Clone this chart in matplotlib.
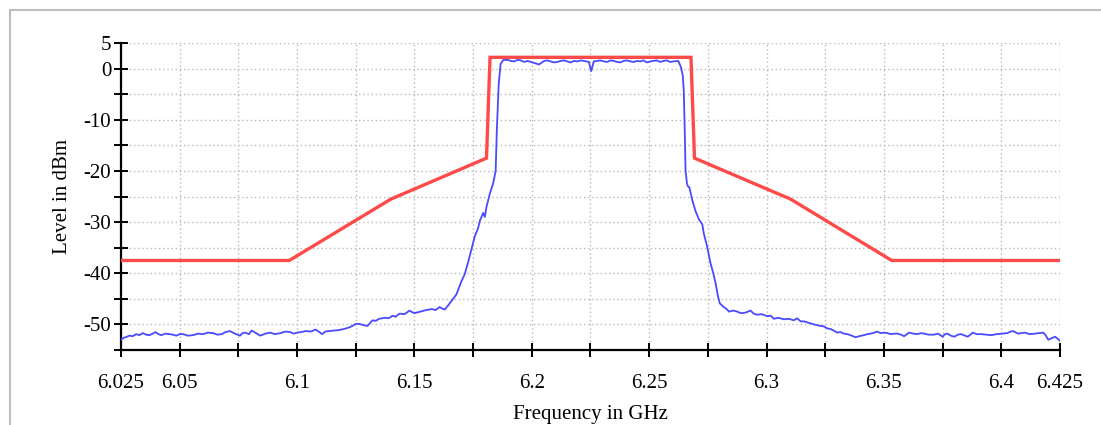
import matplotlib
matplotlib.use("Agg")
import matplotlib.pyplot as plt
from matplotlib.lines import Line2D

# ---------------- data ----------------
mask_freq = [6.025, 6.0967, 6.1400, 6.1807, 6.1822, 6.2678, 6.2693, 6.3102, 6.3533, 6.425]
mask_level = [-37.5, -37.5, -25.5, -17.5, 2.2, 2.2, -17.5, -25.5, -37.5, -37.5]

blue_freq = [
    6.0250, 6.0262, 6.0271, 6.0285, 6.0300, 6.0315, 6.0328, 6.0343, 6.0357, 6.0371,
    6.0385, 6.0397, 6.0410, 6.0421, 6.0440, 6.0457, 6.0470, 6.0486, 6.0500, 6.0514,
    6.0535, 6.0557, 6.0578, 6.0600, 6.0620, 6.0643, 6.0660, 6.0679, 6.0695, 6.0714,
    6.0735, 6.0757, 6.0768, 6.0779, 6.0795, 6.0807, 6.0825, 6.0843, 6.0865, 6.0886,
    6.0905, 6.0929, 6.0950, 6.0971, 6.0985, 6.1000, 6.1018, 6.1036, 6.1058, 6.1079,
    6.1092, 6.1107, 6.1120, 6.1136, 6.1158, 6.1179, 6.1200, 6.1221, 6.1236, 6.1250,
    6.1265, 6.1280, 6.1300, 6.1321, 6.1335, 6.1350, 6.1375, 6.1390, 6.1407, 6.1420,
    6.1436, 6.1458, 6.1479, 6.1490, 6.1500, 6.1525, 6.1550, 6.1575, 6.1590, 6.1607,
    6.1618, 6.1629, 6.1640, 6.1650, 6.1665, 6.1679, 6.1690, 6.1700, 6.1714, 6.1729,
    6.1743, 6.1757, 6.1771, 6.1779, 6.1793, 6.1800, 6.1807, 6.1821, 6.1835, 6.1846,
    6.1851, 6.1859, 6.1867, 6.1879,
    6.1897, 6.1911, 6.1925, 6.1939, 6.1953, 6.1968, 6.1982, 6.2003, 6.2017, 6.2031,
    6.2052, 6.2066, 6.2081, 6.2095, 6.2109, 6.2123, 6.2137, 6.2151, 6.2165, 6.2180,
    6.2194, 6.2208, 6.2222, 6.2243, 6.2253, 6.2264, 6.2278, 6.2292, 6.2307, 6.2321,
    6.2335, 6.2349, 6.2363, 6.2377, 6.2391, 6.2405, 6.2420, 6.2434, 6.2448, 6.2462,
    6.2476, 6.2490, 6.2504, 6.2518, 6.2532, 6.2547, 6.2561, 6.2575, 6.2589, 6.2603,
    6.2624, 6.2636, 6.2643,
    6.2647, 6.2651, 6.2655, 6.2661, 6.2665, 6.2671, 6.2683, 6.2697, 6.2712, 6.2726,
    6.2733, 6.2747, 6.2761, 6.2773, 6.2783, 6.2793, 6.2801, 6.2818, 6.2830, 6.2840,
    6.2858, 6.2875, 6.2890, 6.2910, 6.2932, 6.2945, 6.2960, 6.2980, 6.3003, 6.3018,
    6.3031, 6.3050, 6.3074, 6.3095, 6.3116, 6.3130, 6.3145, 6.3159, 6.3180, 6.3202,
    6.3220, 6.3244, 6.3260, 6.3273, 6.3290, 6.3300, 6.3315, 6.3329, 6.3345, 6.3357,
    6.3379, 6.3395, 6.3414, 6.3430, 6.3443, 6.3460, 6.3471, 6.3485, 6.3500, 6.3515,
    6.3529, 6.3545, 6.3557, 6.3572, 6.3586, 6.3607, 6.3625, 6.3643, 6.3658, 6.3671,
    6.3690, 6.3714, 6.3730, 6.3750, 6.3760, 6.3771, 6.3785, 6.3800, 6.3815, 6.3829,
    6.3845, 6.3857, 6.3879, 6.3895, 6.3914, 6.3935, 6.3957, 6.3980, 6.4007, 6.4025,
    6.4040, 6.4050, 6.4071, 6.4085, 6.4100, 6.4120, 6.4143, 6.4160, 6.4179, 6.4190,
    6.4200, 6.4215, 6.4229, 6.4240, 6.4250,
]
blue_level = [
    -53.0, -52.6, -52.5, -52.2, -52.3, -51.9, -52.1, -51.7, -52.0, -52.1,
    -51.8, -51.5, -51.9, -52.1, -51.8, -51.9, -52.0, -52.2, -51.9, -51.9,
    -52.2, -52.1, -51.8, -51.9, -51.6, -51.7, -52.0, -51.9, -51.5, -51.3,
    -51.8, -52.2, -51.7, -51.6, -51.9, -51.2, -51.7, -52.2, -51.8, -51.6,
    -51.9, -51.7, -51.4, -51.5, -51.8, -51.6, -51.5, -51.3, -51.4, -51.0,
    -51.4, -51.9, -51.4, -51.3, -51.2, -51.1, -50.9, -50.6, -50.3, -49.9,
    -49.9, -50.1, -50.3, -49.2, -49.3, -48.9, -48.7, -48.8, -48.3, -48.5,
    -47.9, -48.0, -47.3, -47.6, -47.8, -47.5, -47.2, -47.0, -47.2, -46.6,
    -46.9, -47.1, -46.5, -45.9, -45.0, -44.1, -42.8, -41.6, -40.2, -37.8,
    -35.3, -32.8, -31.2, -29.7, -28.2, -29.0, -27.0, -24.5, -22.5, -20.0,
    -12.0, -3.0, 0.9, 1.7,
    1.7, 1.5, 1.4, 1.7, 1.6, 1.3, 1.5, 1.2, 1.0, 0.8,
    1.5, 1.6, 1.4, 1.2, 1.3, 1.5, 1.6, 1.4, 1.2, 1.5,
    1.4, 1.6, 1.5, 1.3, -0.5, 1.4, 1.5, 1.6, 1.4, 1.3,
    1.6, 1.5, 1.3, 1.2, 1.5, 1.6, 1.4, 1.3, 1.5, 1.4,
    1.6, 1.2, 1.4, 1.5, 1.6, 1.3, 1.5, 1.6, 1.3, 1.4,
    1.5, 0.2, -1.4,
    -4.0, -11.0, -20.0, -22.5, -23.0, -23.2, -25.6, -27.8, -29.5, -30.4,
    -32.3, -34.8, -38.0, -40.0, -42.0, -44.5, -45.9, -46.6, -47.0, -47.5,
    -47.3, -47.5, -47.8, -47.7, -47.3, -47.9, -48.1, -48.0, -48.4, -48.3,
    -48.9, -48.7, -49.0, -48.9, -49.2, -48.8, -49.4, -49.4, -49.7, -50.0,
    -50.2, -50.4, -50.8, -50.9, -51.3, -51.6, -51.5, -51.8, -51.9, -52.1,
    -52.5, -52.3, -52.1, -51.9, -51.8, -51.6, -51.4, -51.7, -51.6, -51.7,
    -51.9, -51.8, -51.8, -52.0, -52.3, -51.6, -51.8, -51.9, -51.7, -51.8,
    -52.0, -52.0, -51.8, -52.4, -51.9, -51.8, -52.2, -52.4, -52.0, -51.9,
    -52.2, -52.4, -51.6, -51.9, -51.9, -52.0, -52.1, -51.9, -51.8, -51.7,
    -51.4, -51.3, -51.8, -51.7, -51.6, -51.9, -51.8, -51.7, -51.6, -52.2,
    -53.0, -52.7, -52.4, -52.8, -53.2,
]

x_ticks = [6.025 + 0.025 * i for i in range(17)]
x_tick_labels = ["6.025", "6.05", "", "6.1", "", "6.15", "", "6.2", "", "6.25",
                 "", "6.3", "", "6.35", "", "6.4", "6.425"]
y_ticks = [5, 0, -5, -10, -15, -20, -25, -30, -35, -40, -45, -50, -55]
y_tick_labels = ["5", "0", "", "-10", "", "-20", "", "-30", "", "-40", "", "-50", ""]

# ---------------- figure ----------------
plt.rcParams["font.family"] = ["Liberation Serif", "DejaVu Serif"]
plt.rcParams["axes.unicode_minus"] = False

W, H = 1101, 425
fig = plt.figure(figsize=(W / 100, H / 100), dpi=100)
ax = fig.add_axes([121 / W, 1 - 350 / H, 939 / W, 307 / H])

ax.plot(blue_freq, blue_level, color="#4a4aff", lw=1.3, zorder=3)
ax.plot(mask_freq, mask_level, color="#ff4a4a", lw=2.4, zorder=4,
        solid_joinstyle="miter")

ax.set_xlim(6.025, 6.425)
ax.set_ylim(-55, 5)
ax.set_xticks(x_ticks)
ax.set_xticklabels(x_tick_labels)
ax.set_yticks(y_ticks)
ax.set_yticklabels(y_tick_labels)

ax.grid(True, color="#b8b8b8", linestyle=(0, (1, 2)), linewidth=1.0, zorder=0)
for s in ["top", "right"]:
    ax.spines[s].set_visible(False)
for s in ["left", "bottom"]:
    ax.spines[s].set_linewidth(1.6)
    ax.spines[s].set_color("black")

ax.tick_params(axis="both", direction="inout", length=10, width=1.4,
               labelsize=15, colors="black")
ax.tick_params(axis="x", pad=12)
ax.tick_params(axis="y", pad=2)

ax.set_xlabel("Frequency in GHz", fontsize=15, labelpad=9)
ax.set_ylabel("Level in dBm", fontsize=15, labelpad=8)

# light grey frame (left and top)
fig.add_artist(Line2D([9.5 / W, 9.5 / W], [0, 1 - 9.5 / H], transform=fig.transFigure,
                      color="#bdbdbd", lw=1.5))
fig.add_artist(Line2D([9.5 / W, 1], [1 - 9.5 / H, 1 - 9.5 / H], transform=fig.transFigure,
                      color="#bdbdbd", lw=1.5))

fig.savefig("out.png", dpi=100)
